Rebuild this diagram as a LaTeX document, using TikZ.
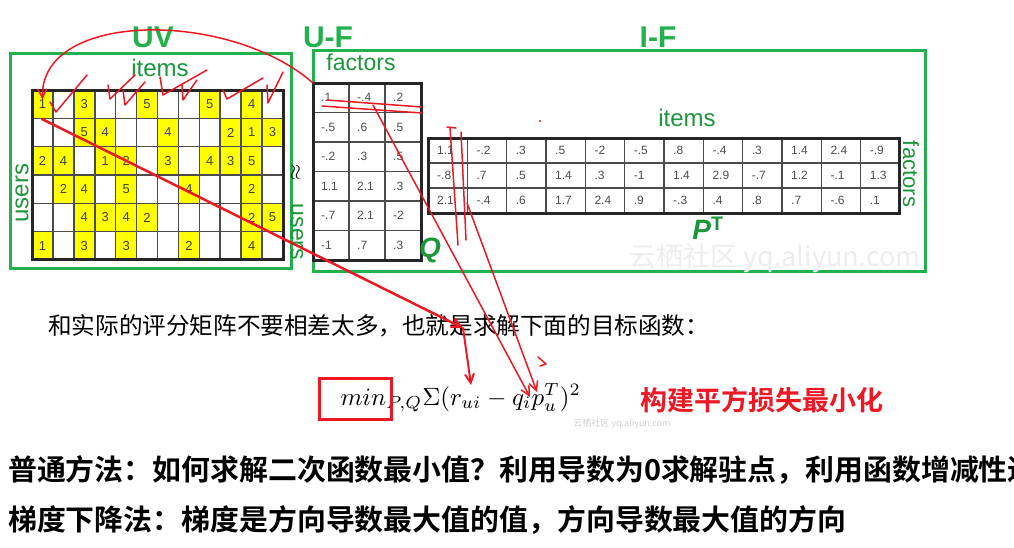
\documentclass[tikz,border=0pt]{standalone}
\usepackage{fontspec}
\setmainfont{Liberation Sans}
\newfontfamily\cjk{Noto Sans CJK SC}[BoldFont={Noto Sans CJK SC Bold}]
\usetikzlibrary{arrows.meta}

\definecolor{boxgreen}{RGB}{34,177,76}
\definecolor{labgreen}{RGB}{28,150,58}
\definecolor{annred}{RGB}{236,24,36}
\definecolor{cellyellow}{RGB}{255,255,0}

% rating matrix
\newcommand*{\uvl}{32}
\newcommand*{\uvt}{90}
\newcommand*{\uvw}{20.92}
\newcommand*{\uvh}{28.33}
% user factor matrix
\newcommand*{\ql}{313}
\newcommand*{\qt}{83}
\newcommand*{\qw}{36}
\newcommand*{\qh}{29.5}
% item factor matrix
\newcommand*{\pl}{428}
\newcommand*{\pt}{138}
\newcommand*{\pw}{39.33}
\newcommand*{\ph}{25}

\begin{document}
\begin{tikzpicture}
[
	x=1pt,
	y=-1pt,
	greenbox/.style={draw=boxgreen,line width=3pt},
	gridline/.style={draw=black!70,line width=1.6pt},
	gridframe/.style={draw=black!85,line width=3pt},
	uvnum/.style={font=\fontsize{13}{13}\selectfont,text=black!75,inner sep=0pt},
	fnum/.style={font=\fontsize{12}{12}\selectfont,text=black!70,inner sep=0pt,anchor=west},
	axislabel/.style={text=labgreen,font=\fontsize{24}{24}\selectfont,inner sep=0pt},
	mtxtitle/.style={text=boxgreen,font=\bfseries\fontsize{30}{30}\selectfont,inner sep=0pt},
	mtxname/.style={text=labgreen,font=\bfseries\itshape\fontsize{28}{28}\selectfont,inner sep=0pt},
	redline/.style={draw=annred,line width=1.5pt,line cap=round,line join=round},
	redarrow/.style={redline,-{Straight Barb[length=9pt,width=9pt]}}
]
	\clip (0,0) rectangle (1014,547);

	% green frames
	\draw[greenbox] (10,53) rectangle (291,268);
	\draw[greenbox] (313,50) rectangle (925,271);

	% frame titles
	\node[mtxtitle] (uvtitle) at (153,37) {UV};
	\node[mtxtitle] (uftitle) at (328,37) {U-F};
	\node[mtxtitle] (iftitle) at (658,37) {I-F};

	% rating matrix cells
	\foreach \r/\c/\v in {1/1/1,1/3/3,1/6/5,1/9/5,1/11/4,
	                      2/3/5,2/4/4,2/7/4,2/10/2,2/11/1,2/12/3,
	                      3/1/2,3/2/4,3/4/1,3/5/2,3/7/3,3/9/4,3/10/3,3/11/5,
	                      4/2/2,4/3/4,4/5/5,4/8/4,4/11/2,
	                      5/3/4,5/4/3,5/5/4,5/6/2,5/11/2,5/12/5,
	                      6/1/1,6/3/3,6/5/3,6/8/2,6/11/4}
	{
		\fill[cellyellow] ({\uvl+(\c-1)*\uvw},{\uvt+(\r-1)*\uvh}) rectangle ++(\uvw,\uvh);
		\node[uvnum] (uv-\r-\c) at ({\uvl+(\c-0.5)*\uvw},{\uvt+(\r-0.5)*\uvh}) {\v};
	}
	\foreach \c in {1,...,11}
		\draw[gridline] ({\uvl+\c*\uvw},\uvt) -- ++(0,{6*\uvh});
	\foreach \r in {1,...,5}
		\draw[gridline] (\uvl,{\uvt+\r*\uvh}) -- ++({12*\uvw},0);
	\draw[gridframe] (\uvl,\uvt) rectangle ++({12*\uvw},{6*\uvh});

	\node[axislabel] (uvitems) at (160,68) {items};
	\node[axislabel,rotate=90] (uvusers) at (22,193) {users};

	% user factors Q
	\foreach \r/\a/\b/\cc in {1/.1/-.4/.2,2/-.5/.6/.5,3/-.2/.3/.5,
	                          4/1.1/2.1/.3,5/-.7/2.1/-2,6/-1/.7/.3}
	{
		\node[fnum] (q-\r-1) at ({\ql+8},{\qt+(\r-0.5)*\qh}) {\a};
		\node[fnum] (q-\r-2) at ({\ql+\qw+8},{\qt+(\r-0.5)*\qh}) {\b};
		\node[fnum] (q-\r-3) at ({\ql+2*\qw+8},{\qt+(\r-0.5)*\qh}) {\cc};
	}
	\foreach \c in {1,2}
		\draw[gridline] ({\ql+\c*\qw},\qt) -- ++(0,{6*\qh});
	\foreach \r in {1,...,5}
		\draw[gridline] (\ql,{\qt+\r*\qh}) -- ++({3*\qw},0);
	\draw[gridframe] (\ql,\qt) rectangle ++({3*\qw},{6*\qh});

	\node[axislabel,font=\fontsize{23}{23}\selectfont] (qfactors) at (361,62) {factors};
	\node[axislabel,font=\fontsize{23}{23}\selectfont,rotate=-90] (qusers) at (297,232) {users};
	\node[inner sep=0pt,rotate=-90,font=\fontsize{22}{22}\selectfont] (approx) at (295,173) {$\approx$};
	\node[mtxname] (qname) at (430,250) {Q};

	% item factors P transposed
	\foreach \c/\pa/\pb/\pc in {1/1.1/-.8/2.1,2/-.2/.7/-.4,3/.3/.5/.6,4/.5/1.4/1.7,
	                            5/-2/.3/2.4,6/-.5/-1/.9,7/.8/1.4/-.3,8/-.4/2.9/.4,
	                            9/.3/-.7/.8,10/1.4/1.2/.7,11/2.4/-.1/-.6,12/-.9/1.3/.1}
	{
		\node[fnum] (p-1-\c) at ({\pl+(\c-1)*\pw+9},{\pt+0.5*\ph}) {\pa};
		\node[fnum] (p-2-\c) at ({\pl+(\c-1)*\pw+9},{\pt+1.5*\ph}) {\pb};
		\node[fnum] (p-3-\c) at ({\pl+(\c-1)*\pw+9},{\pt+2.5*\ph}) {\pc};
	}
	\foreach \c in {1,...,11}
		\draw[gridline] ({\pl+\c*\pw},\pt) -- ++(0,{3*\ph});
	\foreach \r in {1,2}
		\draw[gridline] (\pl,{\pt+\r*\ph}) -- ++({12*\pw},0);
	\draw[gridframe] (\pl,\pt) rectangle ++({12*\pw},{3*\ph});

	\node[axislabel] (pitems) at (687,118) {items};
	\node[axislabel,font=\fontsize{22}{22}\selectfont,rotate=-90] (pfactors) at (911,174) {factors};
	\node[mtxname] (pname) at (708,228) {P\textsuperscript{\upshape T}};

	% watermarks
	\node[text=black!7,font=\cjk\fontsize{27}{27}\selectfont,inner sep=0pt] (mark) at (775,258) {云栖社区 yq.aliyun.com};
	\node[text=black!18,font=\cjk\fontsize{9}{9}\selectfont,inner sep=0pt] (smallmark) at (622,424) {云栖社区 yq.aliyun.com};

	% text below
	\node[anchor=west,inner sep=0pt,font=\cjk\fontsize{23.6}{23.6}\selectfont] (sentence) at (48,326)
		{和实际的评分矩阵不要相差太多，也就是求解下面的目标函数：};
	\node[anchor=base west,inner sep=0pt,scale=2.5] (loss) at (340,405)
		{$min_{P,Q}\Sigma(r_{ui}-q_ip_u^T)^2$};
	\draw[annred,line width=3pt] (319,378) rectangle (391,419);
	\node[anchor=west,inner sep=0pt,text=annred,font=\cjk\bfseries\fontsize{27}{27}\selectfont] (lossnote) at (640,400)
		{构建平方损失最小化};
	\node[anchor=west,inner sep=0pt,font=\cjk\bfseries\fontsize{28.9}{28.9}\selectfont] (plain) at (8,470)
		{普通方法：如何求解二次函数最小值？利用导数为0求解驻点，利用函数增减性进};
	\node[anchor=west,inner sep=0pt,font=\cjk\bfseries\fontsize{28.9}{28.9}\selectfont] (descent) at (8,520)
		{梯度下降法：梯度是方向导数最大值的值，方向导数最大值的方向};

	% red pen marks
	\coordinate (qcorner) at (\ql,\qt);
	\coordinate (uvtail) at (42,119);
	\coordinate (bend) at (463,328);
	\coordinate (rui) at (471,385);
	\coordinate (qi) at (530,397);
	\coordinate (pu) at (537,392);

	\draw[redarrow] (qcorner) .. controls (230,10) and (40,10) .. (uv-1-1.north);

	\draw[redline] (50,102) -- (56,112) -- (87,75);
	\draw[redline] (108,85) -- (110,99) -- (135,75);
	\draw[redline] (123,90) -- (125,105) -- (145,82);
	\draw[redline] (160,77) -- (163,95) -- (207,70);
	\draw[redline] (182,85) -- (183,100) -- (197,80);
	\draw[redline] (223,90) -- (227,99) -- (263,78);
	\draw[redline] (267,85) -- (268,103) -- (283,72);

	\draw[redarrow,line width=2.5pt] (uvtail) -- (bend);
	\draw[redarrow,line width=2pt] (bend) -- (rui);

	\draw[redline] (327,100) -- (422,107);
	\draw[redline] (322,106) -- (422,113);
	\draw[redarrow] (373,105) -- (qi);

	\draw[redline] (447,127) -- (456,128);
	\draw[redline] (450,128) -- (458,245);
	\draw[redline] (461,132) -- (466,240);
	\draw[redarrow] (467,203) -- (pu);
	\draw[redline] (538,357) -- (546,364) -- (540,366);
	\fill[annred] (540,121) circle (1.2);

\end{tikzpicture}
\end{document}
